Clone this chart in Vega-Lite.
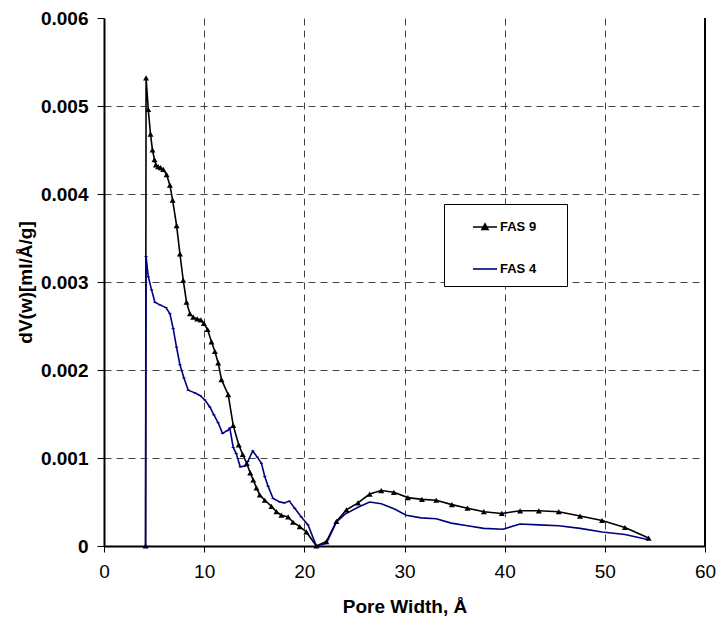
{
  "$schema": "https://vega.github.io/schema/vega-lite/v6.json",
  "width": 601,
  "height": 528,
  "autosize": {"type": "none"},
  "padding": {"left": 104, "top": 18, "right": 12, "bottom": 71},
  "config": {
    "font": "Liberation Sans",
    "view": {"stroke": null},
    "axis": {
      "gridColor": "#444",
      "gridDash": [7, 5],
      "gridWidth": 1,
      "domainColor": "black",
      "domainWidth": 2,
      "tickColor": "black",
      "tickWidth": 1,
      "labelColor": "black",
      "titleColor": "black",
      "labelFontSize": 19,
      "titleFontSize": 19,
      "titleFontWeight": "bold",
      "labelFlush": false
    }
  },
  "datasets": {
    "pts": [
      {"s": "FAS 9", "i": 0, "w": 4.15, "v": 0},
      {"s": "FAS 9", "i": 1, "w": 4.2, "v": 0.00532},
      {"s": "FAS 9", "i": 2, "w": 4.42, "v": 0.00496},
      {"s": "FAS 9", "i": 3, "w": 4.64, "v": 0.00468},
      {"s": "FAS 9", "i": 4, "w": 4.84, "v": 0.0045},
      {"s": "FAS 9", "i": 5, "w": 5.04, "v": 0.00439},
      {"s": "FAS 9", "i": 6, "w": 5.18, "v": 0.00433},
      {"s": "FAS 9", "i": 7, "w": 5.41, "v": 0.00431},
      {"s": "FAS 9", "i": 8, "w": 5.65, "v": 0.0043},
      {"s": "FAS 9", "i": 9, "w": 5.91, "v": 0.00428},
      {"s": "FAS 9", "i": 10, "w": 6.25, "v": 0.00422},
      {"s": "FAS 9", "i": 11, "w": 6.58, "v": 0.0041},
      {"s": "FAS 9", "i": 12, "w": 6.85, "v": 0.00393},
      {"s": "FAS 9", "i": 13, "w": 7.25, "v": 0.00364},
      {"s": "FAS 9", "i": 14, "w": 7.58, "v": 0.00332},
      {"s": "FAS 9", "i": 15, "w": 7.91, "v": 0.00302},
      {"s": "FAS 9", "i": 16, "w": 8.24, "v": 0.00277},
      {"s": "FAS 9", "i": 17, "w": 8.58, "v": 0.00264},
      {"s": "FAS 9", "i": 18, "w": 8.91, "v": 0.0026},
      {"s": "FAS 9", "i": 19, "w": 9.31, "v": 0.00258},
      {"s": "FAS 9", "i": 20, "w": 9.67, "v": 0.00257},
      {"s": "FAS 9", "i": 21, "w": 9.97, "v": 0.00253},
      {"s": "FAS 9", "i": 22, "w": 10.34, "v": 0.00246},
      {"s": "FAS 9", "i": 23, "w": 10.73, "v": 0.00232},
      {"s": "FAS 9", "i": 24, "w": 11.07, "v": 0.00221},
      {"s": "FAS 9", "i": 25, "w": 11.4, "v": 0.00208},
      {"s": "FAS 9", "i": 26, "w": 11.73, "v": 0.00189},
      {"s": "FAS 9", "i": 27, "w": 12.4, "v": 0.00172},
      {"s": "FAS 9", "i": 28, "w": 12.9, "v": 0.00137},
      {"s": "FAS 9", "i": 29, "w": 13.45, "v": 0.00115},
      {"s": "FAS 9", "i": 30, "w": 13.85, "v": 0.00104},
      {"s": "FAS 9", "i": 31, "w": 14.25, "v": 0.00094},
      {"s": "FAS 9", "i": 32, "w": 14.6, "v": 0.00083},
      {"s": "FAS 9", "i": 33, "w": 14.9, "v": 0.00075},
      {"s": "FAS 9", "i": 34, "w": 15.22, "v": 0.00066},
      {"s": "FAS 9", "i": 35, "w": 15.55, "v": 0.00058},
      {"s": "FAS 9", "i": 36, "w": 16.05, "v": 0.00052},
      {"s": "FAS 9", "i": 37, "w": 16.72, "v": 0.00045},
      {"s": "FAS 9", "i": 38, "w": 17.21, "v": 0.00039},
      {"s": "FAS 9", "i": 39, "w": 17.71, "v": 0.00035},
      {"s": "FAS 9", "i": 40, "w": 18.38, "v": 0.00033},
      {"s": "FAS 9", "i": 41, "w": 18.87, "v": 0.00027},
      {"s": "FAS 9", "i": 42, "w": 19.54, "v": 0.00022},
      {"s": "FAS 9", "i": 43, "w": 20.2, "v": 0.00016},
      {"s": "FAS 9", "i": 44, "w": 21.2, "v": 0.0},
      {"s": "FAS 9", "i": 45, "w": 22.2, "v": 0.00005},
      {"s": "FAS 9", "i": 46, "w": 23.2, "v": 0.00028},
      {"s": "FAS 9", "i": 47, "w": 24.2, "v": 0.00041},
      {"s": "FAS 9", "i": 48, "w": 25.36, "v": 0.00049},
      {"s": "FAS 9", "i": 49, "w": 26.52, "v": 0.00059},
      {"s": "FAS 9", "i": 50, "w": 27.68, "v": 0.00063},
      {"s": "FAS 9", "i": 51, "w": 28.94, "v": 0.00061},
      {"s": "FAS 9", "i": 52, "w": 30.34, "v": 0.00055},
      {"s": "FAS 9", "i": 53, "w": 31.74, "v": 0.00053},
      {"s": "FAS 9", "i": 54, "w": 33.17, "v": 0.00052},
      {"s": "FAS 9", "i": 55, "w": 34.73, "v": 0.00047},
      {"s": "FAS 9", "i": 56, "w": 36.29, "v": 0.00043},
      {"s": "FAS 9", "i": 57, "w": 37.92, "v": 0.00039},
      {"s": "FAS 9", "i": 58, "w": 39.71, "v": 0.00037},
      {"s": "FAS 9", "i": 59, "w": 41.54, "v": 0.0004},
      {"s": "FAS 9", "i": 60, "w": 43.41, "v": 0.0004},
      {"s": "FAS 9", "i": 61, "w": 45.4, "v": 0.00039},
      {"s": "FAS 9", "i": 62, "w": 47.53, "v": 0.00034},
      {"s": "FAS 9", "i": 63, "w": 49.72, "v": 0.00029},
      {"s": "FAS 9", "i": 64, "w": 52.01, "v": 0.00021},
      {"s": "FAS 9", "i": 65, "w": 54.37, "v": 0.00009},
      {"s": "FAS 4", "i": 0, "w": 4.15, "v": 0},
      {"s": "FAS 4", "i": 1, "w": 4.2, "v": 0.00329},
      {"s": "FAS 4", "i": 2, "w": 4.42, "v": 0.00306},
      {"s": "FAS 4", "i": 3, "w": 4.75, "v": 0.00291},
      {"s": "FAS 4", "i": 4, "w": 5.08, "v": 0.00277},
      {"s": "FAS 4", "i": 5, "w": 5.58, "v": 0.00274},
      {"s": "FAS 4", "i": 6, "w": 6.18, "v": 0.00271},
      {"s": "FAS 4", "i": 7, "w": 6.58, "v": 0.00264},
      {"s": "FAS 4", "i": 8, "w": 6.91, "v": 0.00247},
      {"s": "FAS 4", "i": 9, "w": 7.24, "v": 0.00226},
      {"s": "FAS 4", "i": 10, "w": 7.58, "v": 0.00206},
      {"s": "FAS 4", "i": 11, "w": 7.98, "v": 0.00191},
      {"s": "FAS 4", "i": 12, "w": 8.41, "v": 0.00177},
      {"s": "FAS 4", "i": 13, "w": 9.07, "v": 0.00174},
      {"s": "FAS 4", "i": 14, "w": 9.58, "v": 0.00171},
      {"s": "FAS 4", "i": 15, "w": 10.07, "v": 0.00166},
      {"s": "FAS 4", "i": 16, "w": 10.57, "v": 0.00158},
      {"s": "FAS 4", "i": 17, "w": 10.97, "v": 0.00149},
      {"s": "FAS 4", "i": 18, "w": 11.4, "v": 0.0014},
      {"s": "FAS 4", "i": 19, "w": 11.83, "v": 0.00128},
      {"s": "FAS 4", "i": 20, "w": 12.3, "v": 0.00131},
      {"s": "FAS 4", "i": 21, "w": 12.56, "v": 0.00134},
      {"s": "FAS 4", "i": 22, "w": 12.9, "v": 0.00112},
      {"s": "FAS 4", "i": 23, "w": 13.2, "v": 0.00105},
      {"s": "FAS 4", "i": 24, "w": 13.6, "v": 0.0009},
      {"s": "FAS 4", "i": 25, "w": 14.1, "v": 0.00091},
      {"s": "FAS 4", "i": 26, "w": 14.35, "v": 0.00096},
      {"s": "FAS 4", "i": 27, "w": 14.85, "v": 0.00108},
      {"s": "FAS 4", "i": 28, "w": 15.3, "v": 0.00101},
      {"s": "FAS 4", "i": 29, "w": 15.72, "v": 0.00094},
      {"s": "FAS 4", "i": 30, "w": 16.05, "v": 0.00079},
      {"s": "FAS 4", "i": 31, "w": 16.38, "v": 0.00068},
      {"s": "FAS 4", "i": 32, "w": 16.88, "v": 0.00054},
      {"s": "FAS 4", "i": 33, "w": 17.55, "v": 0.0005},
      {"s": "FAS 4", "i": 34, "w": 18.0, "v": 0.00049},
      {"s": "FAS 4", "i": 35, "w": 18.5, "v": 0.00051},
      {"s": "FAS 4", "i": 36, "w": 19.04, "v": 0.00043},
      {"s": "FAS 4", "i": 37, "w": 19.7, "v": 0.00033},
      {"s": "FAS 4", "i": 38, "w": 20.37, "v": 0.00024},
      {"s": "FAS 4", "i": 39, "w": 21.2, "v": 0},
      {"s": "FAS 4", "i": 40, "w": 22.2, "v": 0.00003},
      {"s": "FAS 4", "i": 41, "w": 23.2, "v": 0.00027},
      {"s": "FAS 4", "i": 42, "w": 24.03, "v": 0.00036},
      {"s": "FAS 4", "i": 43, "w": 25.36, "v": 0.00044},
      {"s": "FAS 4", "i": 44, "w": 26.52, "v": 0.0005},
      {"s": "FAS 4", "i": 45, "w": 27.68, "v": 0.00048},
      {"s": "FAS 4", "i": 46, "w": 29.0, "v": 0.00042},
      {"s": "FAS 4", "i": 47, "w": 30.17, "v": 0.00035},
      {"s": "FAS 4", "i": 48, "w": 31.67, "v": 0.00032},
      {"s": "FAS 4", "i": 49, "w": 33.17, "v": 0.00031},
      {"s": "FAS 4", "i": 50, "w": 34.67, "v": 0.00026},
      {"s": "FAS 4", "i": 51, "w": 36.29, "v": 0.00023},
      {"s": "FAS 4", "i": 52, "w": 37.92, "v": 0.0002},
      {"s": "FAS 4", "i": 53, "w": 39.82, "v": 0.00019},
      {"s": "FAS 4", "i": 54, "w": 41.54, "v": 0.00025},
      {"s": "FAS 4", "i": 55, "w": 43.41, "v": 0.00024},
      {"s": "FAS 4", "i": 56, "w": 45.4, "v": 0.00023},
      {"s": "FAS 4", "i": 57, "w": 47.53, "v": 0.0002},
      {"s": "FAS 4", "i": 58, "w": 49.72, "v": 0.00016},
      {"s": "FAS 4", "i": 59, "w": 52.01, "v": 0.00013},
      {"s": "FAS 4", "i": 60, "w": 54.37, "v": 0.00007}
    ]
  },
  "data": {"name": "pts"},
  "layer": [
    {
      "mark": {"type": "line", "strokeWidth": 1.6},
      "encoding": {
        "x": {
          "field": "w",
          "type": "quantitative",
          "scale": {"domain": [0, 60], "nice": false, "zero": false},
          "axis": {
            "title": "Pore Width, Å",
            "values": [0, 10, 20, 30, 40, 50, 60],
            "tickSize": 6,
            "labelPadding": 10,
            "titlePadding": 16,
            "labelFontWeight": "normal"
          }
        },
        "y": {
          "field": "v",
          "type": "quantitative",
          "scale": {"domain": [0, 0.006], "nice": false},
          "axis": {
            "title": "dV(w)[ml/Å/g]",
            "values": [0, 0.001, 0.002, 0.003, 0.004, 0.005, 0.006],
            "labelExpr": "datum.value == 0 ? '0' : format(datum.value, '.3f')",
            "gridOpacity": {"condition": {"test": "datum.value >= 0.006", "value": 0}, "value": 1},
            "tickSize": 7,
            "labelPadding": 9,
            "titlePadding": 5,
            "labelFontWeight": "bold"
          }
        },
        "order": {"field": "i", "type": "quantitative"},
        "color": {
          "field": "s",
          "type": "nominal",
          "scale": {"domain": ["FAS 9", "FAS 4"], "range": ["black", "#000080"]},
          "legend": {
            "title": "\u00a0",
            "titleOrient": "left",
            "titleFontSize": 11,
            "titlePadding": 18,
            "orient": "none",
            "legendX": 340,
            "legendY": 186,
            "padding": 10,
            "fillColor": "white",
            "strokeColor": "black",
            "symbolSize": 576,
            "symbolStrokeWidth": 1.6,
            "rowPadding": 22,
            "labelOffset": 2,
            "labelFontSize": 13,
            "labelFontWeight": "bold",
            "labelColor": "black",
            "labelExpr": "datum.label + '\u2800\u2800'",
            "encode": {
              "symbols": {
                "update": {
                  "shape": {"signal": "datum.value === 'FAS 9' ? 'M-1,0L1,0M-0.25,0.2L0,-0.25L0.25,0.2Z' : 'M-1,0L1,0'"},
                  "fill": {"signal": "datum.value === 'FAS 9' ? 'black' : 'transparent'"},
                  "stroke": {"signal": "datum.value === 'FAS 9' ? 'black' : '#000080'"}
                }
              }
            }
          }
        }
      }
    },
    {
      "mark": {"type": "rule", "color": "black", "strokeWidth": 1.5},
      "encoding": {"x": {"datum": 60, "type": "quantitative"}}
    },
    {
      "transform": [{"filter": "datum.s === 'FAS 9'"}],
      "mark": {"type": "point", "shape": "triangle-up", "filled": true, "color": "black", "size": 36, "opacity": 1},
      "encoding": {
        "x": {"field": "w", "type": "quantitative"},
        "y": {"field": "v", "type": "quantitative"}
      }
    },
    {
      "transform": [{"filter": "datum.s === 'FAS 4' && datum.w < 21"}],
      "mark": {"type": "point", "shape": "stroke", "filled": false, "color": "#000080", "size": 10, "strokeWidth": 1, "opacity": 1},
      "encoding": {
        "x": {"field": "w", "type": "quantitative"},
        "y": {"field": "v", "type": "quantitative"}
      }
    }
  ]
}
